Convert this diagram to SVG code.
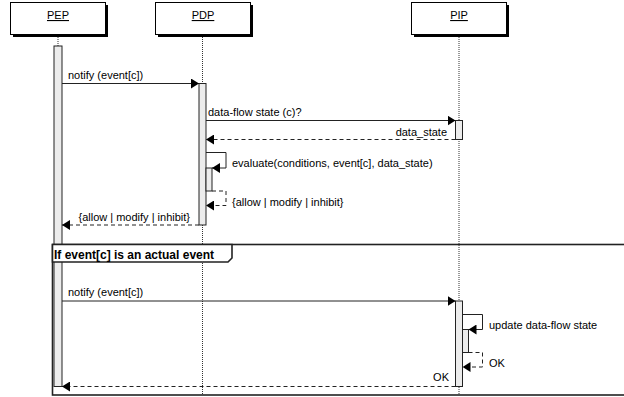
<svg xmlns="http://www.w3.org/2000/svg" width="624" height="397" viewBox="0 0 624 397">
<style>
text{font-family:"Liberation Sans",Arial,sans-serif;font-size:11px;fill:#000}
.hdr{fill:#fff;stroke:#000;stroke-width:1}
.shadow{fill:#000}
.life{stroke:#333;stroke-width:1;stroke-dasharray:1,1;fill:none}
.act{fill:#ececec;stroke:#222;stroke-width:1}
.msg{stroke:#222;stroke-width:1;fill:none;marker-end:url(#ah)}
.ret{stroke:#222;stroke-width:1;fill:none;stroke-dasharray:4,3;marker-end:url(#ah)}
.frame{fill:none;stroke:#222;stroke-width:1.6}
.tab{fill:#fff;stroke:#222;stroke-width:1.6}
.ttl{font-weight:bold;font-size:12px}
</style>
<defs>
<marker id="ah" markerUnits="userSpaceOnUse" markerWidth="8" markerHeight="10" refX="8" refY="5" orient="auto">
<path d="M0,0 L8,5 L0,10 z" fill="#000"/>
</marker>
</defs>
<rect width="624" height="397" fill="#fff"/>

<g id="lifelines">
<line class="life" x1="58" y1="35" x2="58" y2="386"/>
<line class="life" x1="202.5" y1="35" x2="202.5" y2="395"/>
<line class="life" x1="459" y1="35" x2="459" y2="395"/>
</g>

<g id="PEP">
<rect class="shadow" x="13" y="5" width="95" height="32"/>
<rect class="hdr" x="10.5" y="2.5" width="95" height="32"/>
<text x="58" y="19" text-anchor="middle" text-decoration="underline">PEP</text>
</g>
<g id="PDP">
<rect class="shadow" x="158" y="5" width="95" height="32"/>
<rect class="hdr" x="155.5" y="2.5" width="95" height="32"/>
<text x="203" y="19" text-anchor="middle" text-decoration="underline">PDP</text>
</g>
<g id="PIP">
<rect class="shadow" x="414" y="5" width="95" height="32"/>
<rect class="hdr" x="411.5" y="2.5" width="95" height="32"/>
<text x="459" y="19" text-anchor="middle" text-decoration="underline">PIP</text>
</g>

<g id="activations">
<rect class="act" x="54" y="46" width="8" height="340.5"/>
<rect class="act" x="199" y="83.5" width="7" height="141.5"/>
<rect class="act" x="206" y="168" width="6" height="23"/>
<rect class="act" x="455.5" y="120.5" width="7" height="19"/>
<rect class="act" x="455.5" y="301" width="7" height="85.5"/>
<rect class="act" x="462.5" y="329.5" width="6" height="23"/>
</g>

<g id="frame">
<rect class="frame" x="52.5" y="244.5" width="600" height="150.5"/>
<path class="tab" d="M52.5,244.5 V262 H228 L232,258 V244.5 Z"/>
<text class="ttl" x="54" y="259">If event[c] is an actual event</text>
</g>

<g id="connectors">
<line class="msg" x1="62" y1="83.5" x2="199" y2="83.5"/>
<line class="msg" x1="206" y1="120.5" x2="455.5" y2="120.5"/>
<line class="ret" x1="455.5" y1="139.5" x2="206" y2="139.5"/>
<polyline class="msg" points="206,152.5 226,152.5 226,168 212,168"/>
<polyline class="ret" points="212,191 226,191 226,205.5 206,205.5"/>
<line class="ret" x1="199" y1="225" x2="62" y2="225"/>
<line class="msg" x1="62" y1="301" x2="455.5" y2="301"/>
<polyline class="msg" points="462.5,314.5 482.5,314.5 482.5,329.5 468.5,329.5"/>
<polyline class="ret" points="468.5,352.5 482.5,352.5 482.5,367 462.5,367"/>
<line class="ret" x1="455.5" y1="386.5" x2="62" y2="386.5"/>
</g>

<g id="labels">
<text x="68" y="79">notify (event[c])</text>
<text x="208" y="116">data-flow state (c)?</text>
<text x="447" y="136" text-anchor="end">data_state</text>
<text x="232" y="167">evaluate(conditions, event[c], data_state)</text>
<text x="232" y="205.5">{allow | modify | inhibit}</text>
<text x="190" y="221" text-anchor="end">{allow | modify | inhibit}</text>
<text x="68" y="296">notify (event[c])</text>
<text x="489" y="329">update data-flow state</text>
<text x="489" y="367">OK</text>
<text x="449" y="381" text-anchor="end">OK</text>
</g>
</svg>
